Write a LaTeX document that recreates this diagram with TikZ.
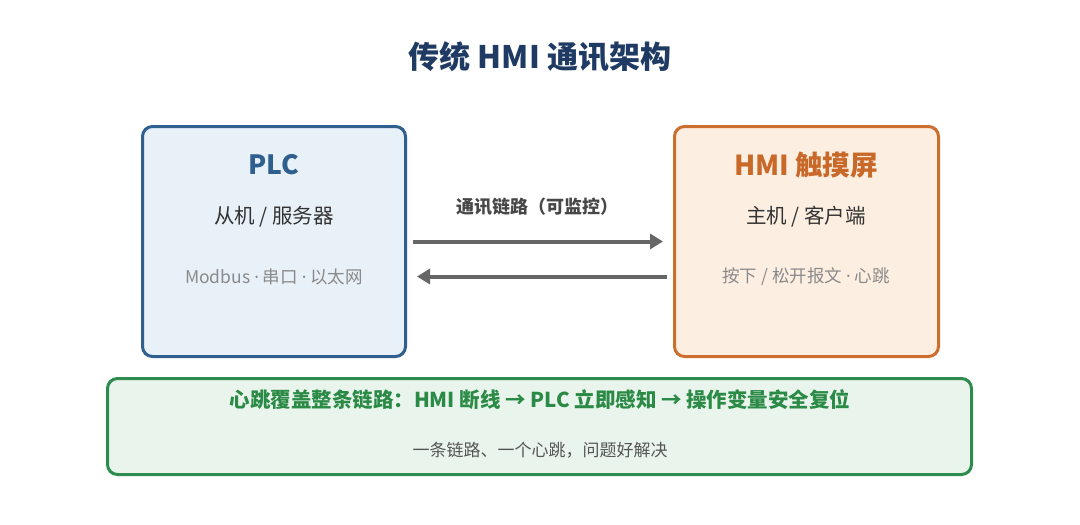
\documentclass[tikz,border=0pt]{standalone}
\usepackage{fontspec}
\setmainfont{Noto Sans CJK SC}
\newfontfamily\latinf{Noto Sans}
\newcommand{\mdot}{{\latinf ·}}
\usetikzlibrary{arrows.meta}
\definecolor{titlec}{HTML}{1F3B63}
\definecolor{plcb}{HTML}{2F5F8F}
\definecolor{plcf}{HTML}{E8F0F8}
\definecolor{hmib}{HTML}{CC6F2E}
\definecolor{hmif}{HTML}{FDEEE2}
\definecolor{hmit}{HTML}{C8692A}
\definecolor{darkt}{HTML}{333333}
\definecolor{grayt}{HTML}{8A8A8A}
\definecolor{arrc}{HTML}{666666}
\definecolor{grnb}{HTML}{2E8B4E}
\definecolor{grnf}{HTML}{E9F5EC}
\definecolor{grnt}{HTML}{2A8A46}
\definecolor{subt}{HTML}{555555}
\tikzset{
  card/.style={draw, line width=3pt, rounded corners=10pt, inner sep=0pt},
  txt/.style={inner sep=0pt, anchor=center},
  arr/.style={draw=arrc, line width=4pt, -{Triangle[length=13pt,width=15pt]}},
}
\begin{document}
\begin{tikzpicture}[x=1pt,y=-1pt]
\useasboundingbox[fill=white] (0,0) rectangle (1080,525);
\node[txt, font=\fontsize{31}{34}\selectfont\bfseries, text=titlec] (title) at (540,57) {传统 HMI 通讯架构};
% PLC box
\node[card, draw=plcb, fill=plcf, minimum width=263pt, minimum height=230pt] (plc) at (274,241.5) {};
\node[txt, font=\fontsize{26.5}{30}\selectfont\bfseries, text=plcb] (plct) at (274,165) {PLC};
\node[txt, font=\fontsize{20.5}{24}\selectfont, text=darkt] (plcs) at (274,217) {从机 / 服务器};
\node[txt, font=\fontsize{17.5}{20}\selectfont, text=grayt] (plcd) at (274,277) {Modbus \mdot{} 串口 \mdot{} 以太网};
% HMI box
\node[card, draw=hmib, fill=hmif, minimum width=264pt, minimum height=230pt] (hmi) at (806.5,241.5) {};
\node[txt, font=\fontsize{27.5}{30}\selectfont\bfseries, text=hmit] (hmitt) at (806,165) {HMI 触摸屏};
\node[txt, font=\fontsize{20.5}{24}\selectfont, text=darkt] (hmis) at (806,217) {主机 / 客户端};
\node[txt, font=\fontsize{17.5}{20}\selectfont, text=grayt] (hmid) at (806,277) {按下 / 松开报文 \mdot{} 心跳};
% link
\node[txt, font=\fontsize{18}{21}\selectfont\bfseries, text=darkt!90] (lbl) at (537,207) {通讯链路（可监控）};
\draw[arr] ([xshift=6pt]plc.east) -- ([xshift=-10pt]hmi.west);
\draw[arr] ([xshift=-6pt,yshift=-35pt]hmi.west) -- ([xshift=10pt,yshift=-35pt]plc.east);
% bottom box
\node[card, draw=grnb, fill=grnf, minimum width=864pt, minimum height=96pt] (hb) at (539.5,426.5) {};
\node[txt, font=\fontsize{20.5}{24}\selectfont\bfseries, text=grnt] (hbt) at (540,400) {心跳覆盖整条链路：HMI 断线 → PLC 立即感知 → 操作变量安全复位};
\node[txt, font=\fontsize{17}{20}\selectfont, text=subt] (hbs) at (540,450) {一条链路、一个心跳，问题好解决};
\end{tikzpicture}
\end{document}
